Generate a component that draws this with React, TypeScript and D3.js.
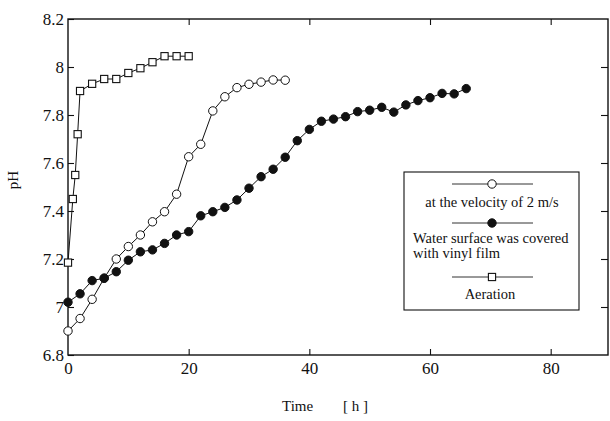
import React, { useEffect, useRef } from 'react'
import * as d3 from 'd3'

// pH readings
const velocityHours = [0, 2, 4, 6, 8, 10, 12, 14, 16, 18, 20, 22, 24, 26, 28, 30, 32, 34, 36]
const velocityPH = [6.9, 6.952, 7.032, 7.12, 7.2, 7.252, 7.3, 7.355, 7.397, 7.47, 7.626, 7.678, 7.817, 7.876, 7.914, 7.928, 7.937, 7.946, 7.945]

const vinylHours = [0, 2, 4, 6, 8, 10, 12, 14, 16, 18, 20, 22, 24, 26, 28, 30, 32, 34, 36, 38, 40, 42, 44, 46, 48, 50, 52, 54, 56, 58, 60, 62, 64, 66]
const vinylPH = [7.02, 7.055, 7.11, 7.12, 7.147, 7.195, 7.23, 7.238, 7.265, 7.3, 7.314, 7.38, 7.397, 7.415, 7.446, 7.495, 7.543, 7.574, 7.624, 7.693, 7.74, 7.774, 7.783, 7.793, 7.814, 7.82, 7.832, 7.812, 7.842, 7.86, 7.872, 7.89, 7.888, 7.91]

const aerationHours = [0, 0.8, 1.2, 1.6, 2, 4, 6, 8, 10, 12, 14, 16, 18, 20]
const aerationPH = [7.185, 7.45, 7.55, 7.72, 7.9, 7.93, 7.95, 7.95, 7.975, 7.995, 8.02, 8.045, 8.045, 8.045]

const xTicks = [0, 20, 40, 60, 80]
const yTicks = [6.8, 7, 7.2, 7.4, 7.6, 7.8, 8, 8.2]

const FONT = '"Liberation Serif", "DejaVu Serif", serif'

export default function App() {
    const ref = useRef<SVGSVGElement>(null)

    useEffect(() => {
        const svg = d3.select(ref.current)
        svg.selectAll('*').remove()
        svg.attr('font-family', FONT).attr('fill', '#111')

        const left = 68, right = 608, top = 19, bottom = 355
        const x = d3.scaleLinear().domain([0, 89.5]).range([left, right])
        const y = d3.scaleLinear().domain([6.8, 8.2]).range([bottom, top])

        const fmtY = (d: number) => d3.format('~g')(d)

        // axes, ticks pointing inward on all four sides
        const gx = svg.append('g').attr('transform', `translate(0,${bottom})`)
            .call(d3.axisBottom(x).tickValues(xTicks).tickSize(-6).tickPadding(7))
        const gy = svg.append('g').attr('transform', `translate(${left},0)`)
            .call(d3.axisLeft(y).tickValues(yTicks).tickSize(-6).tickPadding(4).tickFormat(fmtY as any))
        svg.append('g').attr('transform', `translate(0,${top})`)
            .call(d3.axisTop(x).tickValues(xTicks.slice(1)).tickSize(-6).tickFormat(() => ''))
        svg.append('g').attr('transform', `translate(${right},0)`)
            .call(d3.axisRight(y).tickValues(yTicks.slice(1, -1)).tickSize(-7).tickFormat(() => ''))

        svg.selectAll('.domain').remove()
        svg.selectAll('.tick line').attr('stroke', '#111').attr('stroke-width', 1.1)
        for (const g of [gx, gy]) {
            g.attr('font-family', FONT).attr('font-size', 17)
            g.selectAll('text').attr('fill', '#111')
        }
        gx.selectAll('.tick').filter((d: any) => d === 0).select('line').remove()

        svg.append('rect')
            .attr('x', left).attr('y', top)
            .attr('width', right - left).attr('height', bottom - top)
            .attr('fill', 'none').attr('stroke', '#111').attr('stroke-width', 1.4)

        const line = d3.line<[number, number]>().x(d => x(d[0])).y(d => y(d[1]))

        const drawSeries = (hours: number[], ph: number[], kind: string) => {
            const pts = hours.map((h, i) => [h, ph[i]] as [number, number])
            const g = svg.append('g')
            g.append('path').datum(pts).attr('d', line)
                .attr('fill', 'none').attr('stroke', '#111').attr('stroke-width', 1)
            if (kind === 'square') {
                g.selectAll('rect').data(pts).join('rect')
                    .attr('x', d => x(d[0]) - 3.6).attr('y', d => y(d[1]) - 3.6)
                    .attr('width', 7.2).attr('height', 7.2)
                    .attr('fill', '#fff').attr('stroke', '#111').attr('stroke-width', 1.1)
            } else {
                g.selectAll('circle').data(pts).join('circle')
                    .attr('cx', d => x(d[0])).attr('cy', d => y(d[1])).attr('r', 4.2)
                    .attr('fill', kind === 'filled' ? '#111' : '#fff')
                    .attr('stroke', '#111').attr('stroke-width', 1)
            }
        }

        drawSeries(velocityHours, velocityPH, 'open')
        drawSeries(vinylHours, vinylPH, 'filled')
        drawSeries(aerationHours, aerationPH, 'square')

        // axis titles
        svg.append('text').attr('transform', 'translate(13,180) rotate(-90)')
            .attr('text-anchor', 'middle').attr('dominant-baseline', 'central')
            .attr('font-size', 15).text('pH')
        svg.append('text').attr('x', 282).attr('y', 411)
            .attr('font-size', 15).text('Time')
        svg.append('text').attr('x', 343).attr('y', 411)
            .attr('font-size', 15).text('[ h ]')

        // legend
        const lg = svg.append('g')
        lg.append('rect').attr('x', 404).attr('y', 172).attr('width', 175).attr('height', 138)
            .attr('fill', '#fff').attr('stroke', '#111').attr('stroke-width', 1.1)
        const sample = (yy: number, kind: string) => {
            lg.append('line').attr('x1', 452).attr('x2', 533).attr('y1', yy).attr('y2', yy)
                .attr('stroke', '#333').attr('stroke-width', 1)
            if (kind === 'square') {
                lg.append('rect').attr('x', 492 - 3.6).attr('y', yy - 3.6).attr('width', 7.2).attr('height', 7.2)
                    .attr('fill', '#fff').attr('stroke', '#111').attr('stroke-width', 1.1)
            } else {
                lg.append('circle').attr('cx', 492).attr('cy', yy).attr('r', 4.2)
                    .attr('fill', kind === 'filled' ? '#111' : '#fff').attr('stroke', '#111')
            }
        }
        const label = (tx: number, ty: number, anchor: string, s: string) =>
            lg.append('text').attr('x', tx).attr('y', ty).attr('text-anchor', anchor)
                .attr('font-size', 14.5).text(s)

        sample(184, 'open')
        label(492, 207, 'middle', 'at the velocity of 2 m/s')
        sample(223, 'filled')
        label(413, 243, 'start', 'Water surface was covered')
        label(413, 258, 'start', 'with vinyl film')
        sample(277, 'square')
        label(490, 299, 'middle', 'Aeration')
    }, [])

    return (
        <svg ref={ref} width={610} height={421}
            style={{ position: 'absolute', left: 0, top: 0, background: '#fff' }} />
    )
}
